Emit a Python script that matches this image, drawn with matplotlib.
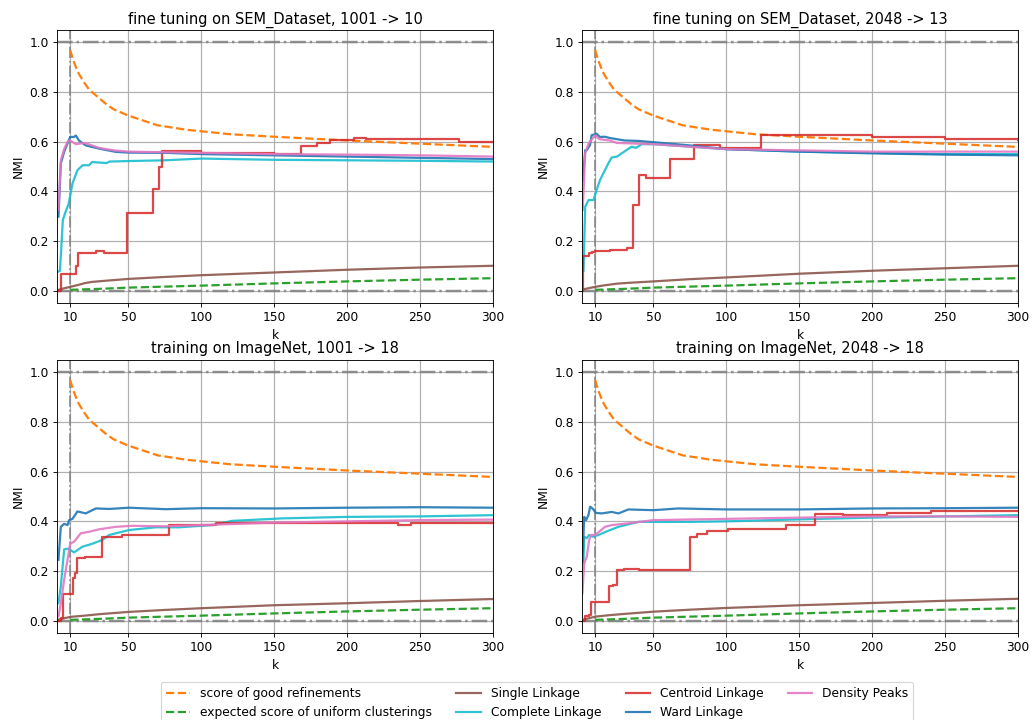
import matplotlib
matplotlib.use("Agg")
import matplotlib.pyplot as plt

plt.rcParams["font.size"] = 11
plt.rcParams["xtick.major.size"] = 4
plt.rcParams["ytick.major.size"] = 4

# ---- reference curves shared by every panel ----
good_k = [10, 12, 14, 16, 20, 23, 30, 35, 40, 50, 70, 90, 120, 150, 200, 250, 300]
good_score = [0.97, 0.93, 0.90, 0.873, 0.835, 0.81, 0.775, 0.75, 0.73, 0.705,
              0.666, 0.648, 0.63, 0.62, 0.605, 0.592, 0.579]
uniform_k = [10, 30, 50, 100, 150, 200, 250, 300]
uniform_score = [0.003, 0.007, 0.012, 0.020, 0.029, 0.037, 0.044, 0.050]

titles = ["fine tuning on SEM_Dataset, 1001 -> 10",
          "fine tuning on SEM_Dataset, 2048 -> 13",
          "training on ImageNet, 1001 -> 18",
          "training on ImageNet, 2048 -> 18"]
x_ticks = [10, 50, 100, 150, 200, 250, 300]
y_ticks = [0.0, 0.2, 0.4, 0.6, 0.8, 1.0]

# ---- single linkage ----
single_top_k = [2, 5, 10, 15, 20, 25, 35, 50, 75, 100, 150, 200, 250, 300]
single_a = [0.003, 0.008, 0.015, 0.022, 0.030, 0.035, 0.040, 0.047, 0.055, 0.062, 0.073, 0.084, 0.093, 0.100]
single_b = [0.005, 0.009, 0.015, 0.020, 0.024, 0.028, 0.032, 0.037, 0.046, 0.053, 0.068, 0.080, 0.090, 0.100]
single_bot_k = [2, 10, 20, 30, 50, 75, 100, 150, 200, 250, 300]
single_c = [0.004, 0.015, 0.020, 0.026, 0.035, 0.043, 0.050, 0.062, 0.070, 0.079, 0.087]
single_d = [0.004, 0.016, 0.022, 0.027, 0.036, 0.044, 0.051, 0.062, 0.071, 0.080, 0.088]

# ---- complete linkage ----
complete_a_k = [2, 3, 4, 5, 7, 9, 11.6, 15, 18.5, 23, 25, 35, 37, 50, 75, 100, 150, 200, 250, 300]
complete_a = [0.077, 0.08, 0.178, 0.285, 0.32, 0.35, 0.432, 0.485, 0.505, 0.505, 0.518,
              0.514, 0.52, 0.522, 0.525, 0.532, 0.527, 0.525, 0.523, 0.52]
complete_b_k = [2, 3.2, 5.5, 8.9, 11, 13.3, 15.6, 19, 21.3, 25, 30, 35, 38, 42, 50, 75, 100, 150, 200, 250, 300]
complete_b = [0.08, 0.338, 0.365, 0.365, 0.405, 0.445, 0.472, 0.512, 0.536, 0.54, 0.56,
              0.58, 0.575, 0.59, 0.59, 0.58, 0.57, 0.56, 0.555, 0.55, 0.55]
complete_c_k = [2, 3.6, 5.9, 8.2, 10, 12.7, 18.5, 25.3, 32, 36.7, 50.4, 68.7, 84.7, 107.6, 121, 155.6, 200, 250, 300]
complete_c = [0.07, 0.138, 0.287, 0.29, 0.285, 0.275, 0.298, 0.31, 0.325, 0.345, 0.365,
              0.376, 0.376, 0.385, 0.402, 0.412, 0.418, 0.42, 0.425]
complete_d_k = [2, 2.5, 4.3, 5.9, 8.2, 12.3, 19, 26, 39.7, 50, 75, 100, 150, 200, 250, 300]
complete_d = [0.231, 0.338, 0.332, 0.345, 0.338, 0.345, 0.362, 0.378, 0.398, 0.398,
              0.398, 0.40, 0.408, 0.415, 0.42, 0.425]

# ---- centroid linkage (step curves: value holds until the next k) ----
centroid_a_k = [2, 3.6, 13.9, 15.5, 28, 33, 48.8, 67, 70.6, 73.3, 100, 150, 168, 179.6, 188, 204.7, 213, 276.7, 300]
centroid_a = [0.0, 0.065, 0.10, 0.15, 0.16, 0.152, 0.311, 0.41, 0.50, 0.561, 0.555, 0.55,
              0.583, 0.595, 0.607, 0.615, 0.61, 0.597, 0.597]
centroid_b_k = [1.5, 2, 6, 8, 10, 20, 32, 36.3, 40, 45, 61.4, 77.8, 95.6, 124, 150, 200, 250, 300]
centroid_b = [0.0, 0.14, 0.15, 0.155, 0.16, 0.165, 0.17, 0.345, 0.465, 0.455, 0.53, 0.588,
              0.575, 0.628, 0.625, 0.618, 0.61, 0.605]
centroid_c_k = [2, 3.6, 5.2, 12, 13, 14.5, 20, 31.6, 45.9, 77.9, 110, 235, 244, 300]
centroid_c = [0.0, 0.01, 0.108, 0.17, 0.19, 0.251, 0.257, 0.335, 0.345, 0.385, 0.393,
              0.385, 0.395, 0.393]
centroid_d_k = [1, 3.2, 5.9, 7.3, 19.6, 22.6, 25, 30, 40, 71.6, 75, 80, 86.5, 101, 141, 160.7, 180, 210, 240, 300]
centroid_d = [0.0, 0.017, 0.024, 0.075, 0.14, 0.145, 0.205, 0.21, 0.205, 0.205, 0.338,
              0.35, 0.362, 0.37, 0.385, 0.43, 0.425, 0.432, 0.44, 0.44]

# ---- ward linkage ----
ward_a_k = [2, 3.6, 5.9, 8.2, 10, 12.7, 13.9, 16, 20.7, 29.9, 41.3, 50, 75, 100, 150, 200, 250, 300]
ward_a = [0.298, 0.512, 0.559, 0.593, 0.619, 0.619, 0.625, 0.605, 0.585, 0.572, 0.559,
          0.556, 0.555, 0.55, 0.545, 0.54, 0.535, 0.53]
ward_b_k = [1.5, 3.2, 4.3, 6.5, 7.6, 11, 13.3, 16.7, 20, 30, 40, 50, 75, 100, 150, 200, 250, 300]
ward_b = [0.445, 0.566, 0.566, 0.586, 0.626, 0.632, 0.619, 0.62, 0.615, 0.605, 0.603,
          0.598, 0.585, 0.57, 0.56, 0.553, 0.548, 0.545]
ward_c_k = [2, 3.6, 5.9, 8.2, 9.3, 11.6, 15, 20.7, 27.6, 36.7, 50.4, 75.6, 100, 150, 200, 250, 300]
ward_c = [0.245, 0.378, 0.39, 0.385, 0.405, 0.41, 0.44, 0.432, 0.452, 0.45, 0.455,
          0.449, 0.453, 0.452, 0.455, 0.457, 0.455]
ward_d_k = [1.3, 2.5, 3.8, 5.4, 6.6, 8.2, 10.5, 14.6, 21.4, 26, 32.8, 50, 67, 100, 150, 200, 250, 300]
ward_d = [0.238, 0.418, 0.405, 0.425, 0.459, 0.452, 0.434, 0.432, 0.438, 0.432, 0.448,
          0.445, 0.452, 0.448, 0.448, 0.452, 0.453, 0.455]

# ---- density peaks ----
density_a_k = [2, 3.6, 5.9, 8.2, 10, 13.9, 20, 30, 40, 50, 100, 150, 200, 250, 300]
density_a = [0.325, 0.525, 0.57, 0.60, 0.605, 0.59, 0.595, 0.575, 0.565, 0.56, 0.555,
             0.55, 0.548, 0.545, 0.54]
density_b_k = [1.5, 3.2, 5.5, 7.3, 10, 13, 20, 25, 50, 75, 100, 150, 200, 250, 300]
density_b = [0.325, 0.553, 0.593, 0.606, 0.625, 0.61, 0.605, 0.595, 0.59, 0.58, 0.57,
             0.565, 0.56, 0.56, 0.56]
density_c_k = [2, 3.6, 5.9, 8.2, 10, 12.7, 17.3, 23, 29.9, 41.3, 52.7, 75, 100, 150, 200, 250, 300]
density_c = [0.017, 0.07, 0.165, 0.245, 0.31, 0.318, 0.352, 0.358, 0.368, 0.378, 0.382,
             0.38, 0.385, 0.395, 0.40, 0.405, 0.407]
density_d_k = [1.3, 2.5, 4.3, 5.9, 7.3, 10, 16.8, 21.4, 32.8, 50, 100, 150, 200, 250, 300]
density_d = [0.11, 0.23, 0.258, 0.325, 0.345, 0.345, 0.378, 0.385, 0.392, 0.405, 0.41,
             0.415, 0.42, 0.42, 0.418]

panels = [
    (single_top_k, single_a, complete_a_k, complete_a, centroid_a_k, centroid_a,
     ward_a_k, ward_a, density_a_k, density_a),
    (single_top_k, single_b, complete_b_k, complete_b, centroid_b_k, centroid_b,
     ward_b_k, ward_b, density_b_k, density_b),
    (single_bot_k, single_c, complete_c_k, complete_c, centroid_c_k, centroid_c,
     ward_c_k, ward_c, density_c_k, density_c),
    (single_bot_k, single_d, complete_d_k, complete_d, centroid_d_k, centroid_d,
     ward_d_k, ward_d, density_d_k, density_d),
]

fig, axes = plt.subplots(2, 2, figsize=(1033 / 80, 720 / 80), dpi=80)
fig.subplots_adjust(left=0.0552, right=0.9855, top=0.9583, bottom=0.1208,
                    wspace=0.204, hspace=0.209)

guide = dict(color="gray", linestyle="-.", alpha=0.85)
for ax, title, data in zip(axes.flat, titles, panels):
    (s_k, s_v, c_k, c_v, ce_k, ce_v, w_k, w_v, d_k, d_v) = data
    ax.axhline(1.0, lw=2.2, **guide)
    ax.axhline(0.0, lw=2.2, **guide)
    ax.axvline(10, lw=1.6, **guide)
    ax.plot(good_k, good_score, "--", color="#ff7f0e", lw=2,
            label="score of good refinements")
    ax.plot(uniform_k, uniform_score, "--", color="#2ca02c", lw=2,
            label="expected score of uniform clusterings")
    ax.plot(s_k, s_v, color="#8c564b", lw=2, alpha=0.9, label="Single Linkage")
    ax.plot(c_k, c_v, color="#17becf", lw=2, alpha=0.9, label="Complete Linkage")
    ax.plot(ce_k, ce_v, color="#d62728", lw=2, alpha=0.85, drawstyle="steps-post",
            label="Centroid Linkage")
    ax.plot(w_k, w_v, color="#1f77b4", lw=2, alpha=0.9, label="Ward Linkage")
    ax.plot(d_k, d_v, color="#e377c2", lw=2, alpha=0.9, label="Density Peaks")
    ax.set_xlim(1, 300)
    ax.set_ylim(-0.05, 1.05)
    ax.set_xticks(x_ticks)
    ax.set_yticks(y_ticks)
    ax.grid(True, color="#b0b0b0", lw=1.1)
    ax.set_axisbelow(True)
    ax.set_title(title, fontsize=13.2)
    ax.set_xlabel("k")
    ax.set_ylabel("NMI")

handles, labels = axes[0, 0].get_legend_handles_labels()
fig.legend(handles, labels, loc="upper center", ncol=4, fontsize=11,
           bbox_to_anchor=(537 / 1033, 1 - 682 / 720), frameon=True,
           borderaxespad=0.0)

fig.savefig("out.png", dpi=80)
